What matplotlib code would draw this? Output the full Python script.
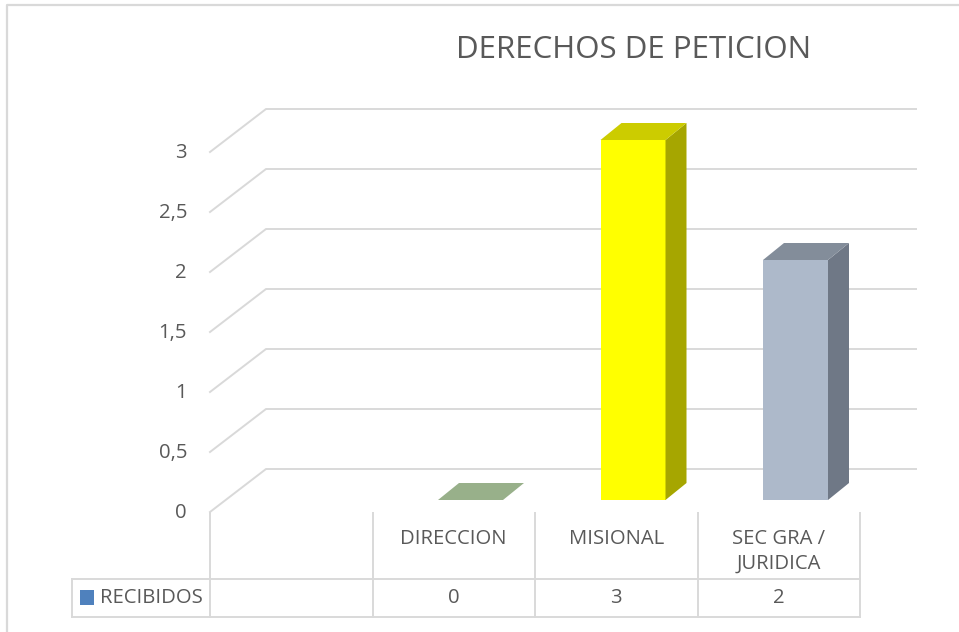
import matplotlib
matplotlib.use("Agg")
import matplotlib.pyplot as plt
from matplotlib.patches import Polygon
from matplotlib.lines import Line2D

# data
categories = ["", "DIRECCION", "MISIONAL", "SEC GRA /\nJURIDICA"]
recibidos = [None, 0, 3, 2]
series_name = "RECIBIDOS"
title = "DERECHOS DE PETICION"
y_ticks = [0, 0.5, 1, 1.5, 2, 2.5, 3]
y_tick_labels = ["0", "0,5", "1", "1,5", "2", "2,5", "3"]

# styles
front_colors = [None, "#98b08a", "#ffff00", "#adb9ca"]
side_colors = [None, "#7f966f", "#a6a600", "#6f7886"]
top_colors = [None, "#98b08a", "#cccc00", "#838d9a"]
legend_color = "#4f81bd"
grid_color = "#d9d9d9"
text_color = "#595959"
font = "Open Sans"
fs = 14.6

W, H = 959, 632
fig = plt.figure(figsize=(W / 100, H / 100), dpi=100)

# axes = front plane of the 3d plot
ax = fig.add_axes([210 / W, (H - 512) / H, 650 / W, 360 / H])
ax.set_xlim(0, len(categories))
ax.set_ylim(0, 3)
ax.axis("off")

px_x = 650 / len(categories)   # pixels per category
px_y = 360 / 3                 # pixels per unit

# oblique offsets (data units)
wall_dx, wall_dy = 56 / px_x, 43 / px_y
bar_sx, bar_sy = 16.75 / px_x, 12 / px_y
depth_dx, depth_dy = 21 / px_x, 17 / px_y
bar_w = 65 / px_x

# gridlines (left wall + back wall)
for v, lab in zip(y_ticks, y_tick_labels):
    ax.add_line(Line2D([0, wall_dx, len(categories) + wall_dx], [v, v + wall_dy, v + wall_dy],
                       color=grid_color, lw=1.4, clip_on=False, zorder=1))
    ax.text(-23 / px_x, v - 1 / px_y, lab, ha="right", va="center",
            fontsize=fs, color=text_color, family=font, clip_on=False)

# bars
for i, v in enumerate(recibidos):
    if v is None:
        continue
    x0 = i + (1 - bar_w) / 2 + bar_sx
    x1 = x0 + bar_w
    y0 = bar_sy
    y1 = bar_sy + v
    if v > 0:
        ax.add_patch(Polygon([(x0, y0), (x1, y0), (x1, y1), (x0, y1)], closed=True,
                             facecolor=front_colors[i], edgecolor="none", zorder=3, clip_on=False))
        ax.add_patch(Polygon([(x1, y0), (x1 + depth_dx, y0 + depth_dy), (x1 + depth_dx, y1 + depth_dy), (x1, y1)],
                             closed=True, facecolor=side_colors[i], edgecolor="none", zorder=3, clip_on=False))
    ax.add_patch(Polygon([(x0, y1), (x1, y1), (x1 + depth_dx, y1 + depth_dy), (x0 + depth_dx, y1 + depth_dy)],
                         closed=True, facecolor=top_colors[i], edgecolor="none", zorder=3, clip_on=False))

# data table
row1 = -67 / px_y
row2 = -105 / px_y
left = -138 / px_x
n = len(categories)
for k in range(n + 1):
    ax.add_line(Line2D([k, k], [-1 / px_y, row2], color=grid_color, lw=1.4, clip_on=False))
ax.add_line(Line2D([left, n], [row1, row1], color=grid_color, lw=1.4, clip_on=False))
ax.add_line(Line2D([left, n], [row2, row2], color=grid_color, lw=1.4, clip_on=False))
ax.add_line(Line2D([left, left], [row1, row2], color=grid_color, lw=1.4, clip_on=False))

for i, cat in enumerate(categories):
    ax.text(i + 0.5, -17 / px_y, cat, ha="center", va="top", fontsize=fs, color=text_color,
            family=font, linespacing=1.3, clip_on=False)
    val = "" if recibidos[i] is None else str(recibidos[i])
    ax.text(i + 0.5, (row1 + row2) / 2, val, ha="center", va="center", fontsize=fs,
            color=text_color, family=font, clip_on=False)

ax.add_patch(plt.Rectangle((-130 / px_x, -78 / px_y), 14 / px_x, -15 / px_y, facecolor=legend_color,
                           edgecolor="none", clip_on=False))
ax.text(-110 / px_x, (row1 + row2) / 2, series_name, ha="left", va="center", fontsize=fs,
        color=text_color, family=font, clip_on=False)

# title
fig.text(634 / W, 1 - 50 / H, title, ha="center", va="center", fontsize=22.5,
         color=text_color, family=font)

# chart border (left + top visible)
fig.add_artist(Line2D([7 / W, 7 / W, 1], [0, 1 - 4.5 / H, 1 - 4.5 / H], color=grid_color, lw=1.6,
                      transform=fig.transFigure))

fig.savefig("out.png", dpi=100, facecolor="white")
